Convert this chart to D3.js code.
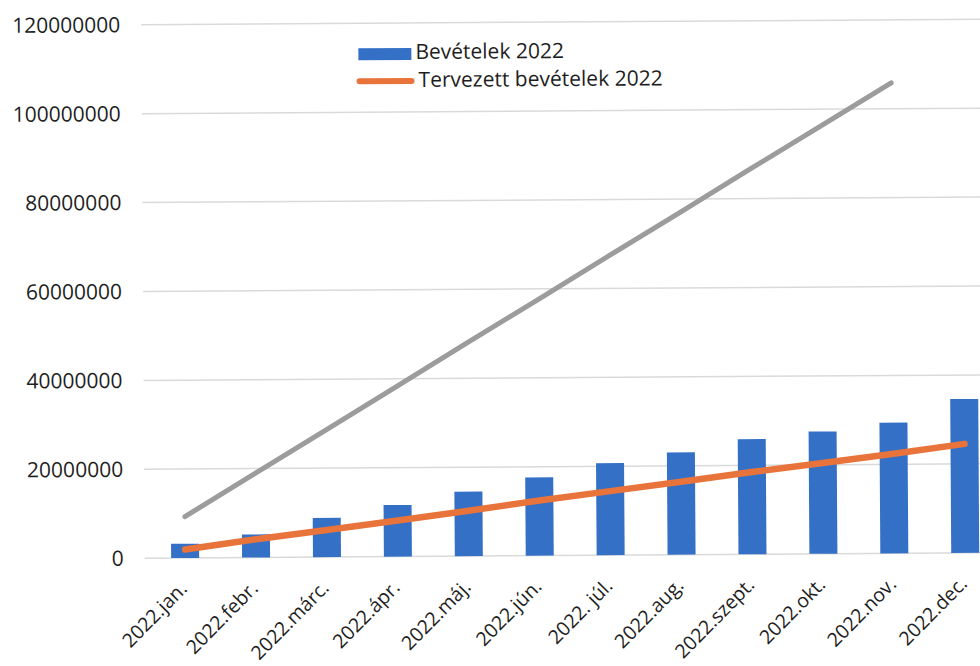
<!DOCTYPE html>
<html>
<head>
<meta charset="utf-8">
<script src="https://cdn.jsdelivr.net/npm/d3@7"></script>
<style>
  html, body { margin: 0; padding: 0; background: #fff; }
  svg { display: block; }
  text { font-family: "Open Sans", "Noto Sans", sans-serif; fill: #1e1e1e; }
</style>
</head>
<body>
<svg id="chart" width="980" height="666"></svg>
<script>
const categories = ["2022.jan.", "2022.febr.", "2022.márc.", "2022.ápr.", "2022.máj.", "2022.jún.",
                    "2022. júl.", "2022.aug.", "2022.szept.", "2022.okt.", "2022.nov.", "2022.dec."];
const bevetelek = [3200000, 5200000, 8800000, 11600000, 14500000, 17600000,
                   20700000, 23000000, 25900000, 27500000, 29400000, 34600000];
const tervezett = [1900000, 4100000, 6100000, 8100000, 10200000, 12400000,
                   14400000, 16400000, 18500000, 20400000, 22400000, 24500000];
const harmadik = [9300000, 19000000, 28600000, 38300000, 48000000, 57600000,
                  67300000, 76900000, 86600000, 96200000, 105800000, null];
const yTicks = [0, 20000000, 40000000, 60000000, 80000000, 100000000, 120000000];
const seriesNames = ["Bevételek 2022", "Tervezett bevételek 2022"];

const svg = d3.select("#chart");
const g = svg.append("g").attr("transform", "rotate(-0.38, 560, 300)");

const x = d3.scaleBand().domain(categories).range([148, 999]).paddingInner(0.605).paddingOuter(0.3025);
const y = d3.scaleLinear().domain([0, 120000000]).range([555.5, 22]);

// gridlines
g.append("g").selectAll("line").data(yTicks).join("line")
  .attr("x1", 143).attr("x2", 1000)
  .attr("y1", d => y(d)).attr("y2", d => y(d))
  .attr("stroke", "#dadada").attr("stroke-width", 1.5);

// y axis labels
const yAxis = d3.axisLeft(y).tickValues(yTicks).tickFormat(d3.format("d")).tickSize(0).tickPadding(0);
const ya = g.append("g").attr("transform", "translate(122,0)").call(yAxis);
ya.select(".domain").remove();
ya.selectAll("text").attr("font-size", 21).attr("font-family", "'Open Sans', sans-serif").attr("fill", "#1e1e1e");

// bars
g.append("g").selectAll("rect").data(bevetelek).join("rect")
  .attr("x", (d, i) => x(categories[i]))
  .attr("width", x.bandwidth())
  .attr("y", d => y(d))
  .attr("height", d => y(0) - y(d))
  .attr("fill", "#3370c6");

// grey line
const line = d3.line()
  .defined(d => d != null)
  .x((d, i) => x(categories[i]) + x.bandwidth() / 2)
  .y(d => y(d));
g.append("path").datum(harmadik)
  .attr("d", line)
  .attr("fill", "none").attr("stroke", "#9c9c9c").attr("stroke-width", 5).attr("stroke-linecap", "round");

// orange line
g.append("path").datum(tervezett)
  .attr("d", line)
  .attr("fill", "none").attr("stroke", "#e8743b").attr("stroke-width", 6.5).attr("stroke-linecap", "round");

// x labels
g.append("g").selectAll("text").data(categories).join("text")
  .attr("transform", d => `translate(${x(d) + x.bandwidth() / 2 + 3},${y(0) + 32}) rotate(-45)`)
  .attr("text-anchor", "end")
  .attr("font-size", 19.5)
  .text(d => d);

// legend
const lg = g.append("g");
lg.append("rect").attr("x", 360).attr("y", 47).attr("width", 53).attr("height", 12).attr("fill", "#3370c6");
lg.append("text").attr("x", 417).attr("y", 58).attr("font-size", 21).text(seriesNames[0]);
lg.append("line").attr("x1", 361).attr("x2", 413).attr("y1", 80).attr("y2", 80)
  .attr("stroke", "#e8743b").attr("stroke-width", 6).attr("stroke-linecap", "round");
lg.append("text").attr("x", 420).attr("y", 86).attr("font-size", 21).text(seriesNames[1]);
</script>
</body>
</html>
